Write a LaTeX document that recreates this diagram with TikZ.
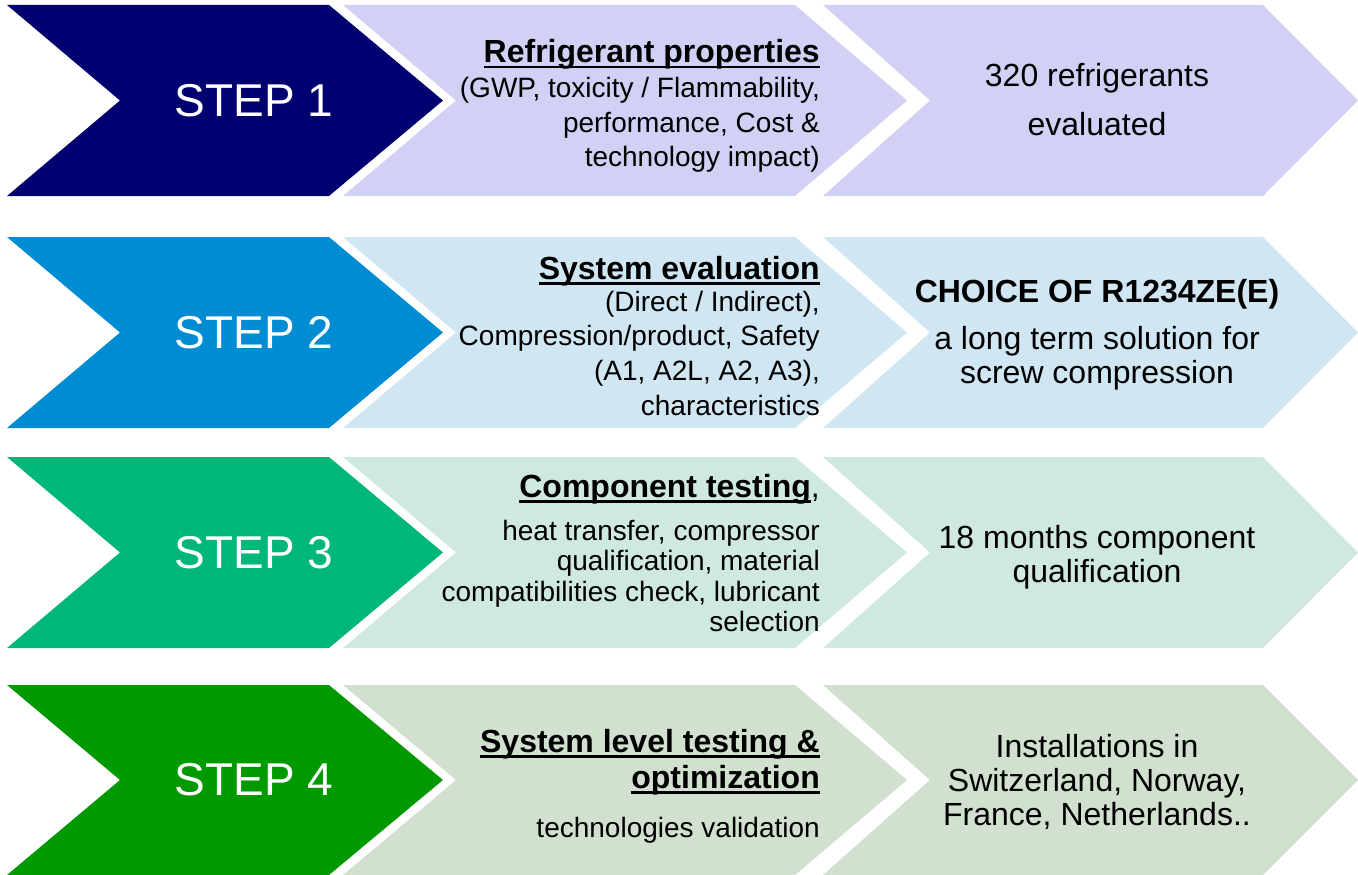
\documentclass[tikz,border=0pt]{standalone}
\usepackage{fontspec}
\setmainfont{Liberation Sans}

% step colours (dark arrow) and their pale companions
\definecolor{stepA}{RGB}{0,0,112}
\definecolor{stepB}{RGB}{0,140,210}
\definecolor{stepC}{RGB}{0,183,122}
\definecolor{stepD}{RGB}{0,153,0}
\definecolor{paleA}{RGB}{209,209,245}
\definecolor{paleB}{RGB}{208,230,242}
\definecolor{paleC}{RGB}{207,233,224}
\definecolor{paleD}{RGB}{209,224,207}

% stacked lines whose baseline is the first line's baseline
\newcommand\linesR[1]{\vtop{\halign{\hfil##\cr#1\crcr}}}
\newcommand\linesC[1]{\vtop{\halign{\hfil##\hfil\cr#1\crcr}}}
% underline at a fixed depth, crossing descenders
\newcommand\undertext[1]{\setbox0=\hbox{#1}\rlap{\rule[-5.5pt]{\wd0}{2.2pt}}\box0}

\tikzset{
  steplabel/.style={text=white, inner sep=0pt, font=\fontsize{46}{55}\selectfont},
  headtext/.style={anchor=base east, inner sep=0pt, font=\bfseries\fontsize{32}{36}\selectfont},
  bodytext/.style={anchor=base east, inner sep=0pt, font=\fontsize{28}{34.2}\selectfont},
  resulthead/.style={anchor=base, inner sep=0pt, font=\bfseries\fontsize{32}{34}\selectfont},
  resulttext/.style={anchor=base, inner sep=0pt, font=\fontsize{32}{34}\selectfont},
}

\begin{document}
\begin{tikzpicture}[x=1pt,y=-1pt]
\useasboundingbox (0,0) rectangle (1358,875);

% three chevrons per row
\foreach \T/\B/\dark/\light in {5/196/stepA/paleA, 237/428/stepB/paleB,
                                457/648/stepC/paleC, 685/875/stepD/paleD}{
  \pgfmathsetmacro\M{(\T+\B)/2}
  \fill[\dark]  (7,\T) -- (329,\T) -- (443,\M) -- (329,\B) -- (7,\B) -- (120,\M) -- cycle;
  \fill[\light] (343,\T) -- (795,\T) -- (907,\M) -- (795,\B) -- (343,\B) -- (456,\M) -- cycle;
  \fill[\light] (823,\T) -- (1263,\T) -- (1358,\M) -- (1263,\B) -- (823,\B) -- (930,\M) -- cycle;
}

% step labels
\node[steplabel] (step1) at (254,100.5) {STEP 1};
\node[steplabel] (step2) at (254,332.5) {STEP 2};
\node[steplabel] (step3) at (254,552.5) {STEP 3};
\node[steplabel] (step4) at (254,780) {STEP 4};

% step 1
\node[headtext] (prop) at (820,63) {\undertext{Refrigerant properties}};
\node[bodytext] (propbody) at (820,98) {\linesR{(GWP, toxicity / Flammability,\cr
  performance, Cost \&\cr technology impact)}};
\node[resulttext, font=\fontsize{32}{48}\selectfont] (count) at (1097,87)
  {\linesC{320 refrigerants\cr evaluated}};

% step 2
\node[headtext] (syseval) at (820,279) {\undertext{System evaluation}};
\node[bodytext, font=\fontsize{28}{34.8}\selectfont] (sysevalbody) at (820,311)
  {\linesR{(Direct / Indirect),\cr
  Compression/product, Safety\cr (A1, A2L, A2, A3),\cr characteristics}};
\node[resulthead] (choice) at (1097,302) {CHOICE OF R1234ZE(E)};
\node[resulttext] (choicebody) at (1097,349) {\linesC{a long term solution for\cr
  screw compression}};

% step 3
\node[headtext] (comp) at (820,497) {\undertext{Component testing}\mdseries,};
\node[bodytext, font=\fontsize{28}{30.5}\selectfont] (compbody) at (820,540)
  {\linesR{heat transfer, compressor\cr qualification, material\cr
  compatibilities check, lubricant\cr selection}};
\node[resulttext] (months) at (1097,548) {\linesC{18 months component\cr qualification}};

% step 4
\node[headtext] (syslevel) at (820,752) {\linesR{\undertext{System level testing \&}\cr
  \undertext{optimization}}};
\node[bodytext] (syslevelbody) at (820,837) {technologies validation};
\node[resulttext] (install) at (1097,757) {\linesC{Installations in\cr
  Switzerland, Norway,\cr France, Netherlands..}};
\end{tikzpicture}
\end{document}
